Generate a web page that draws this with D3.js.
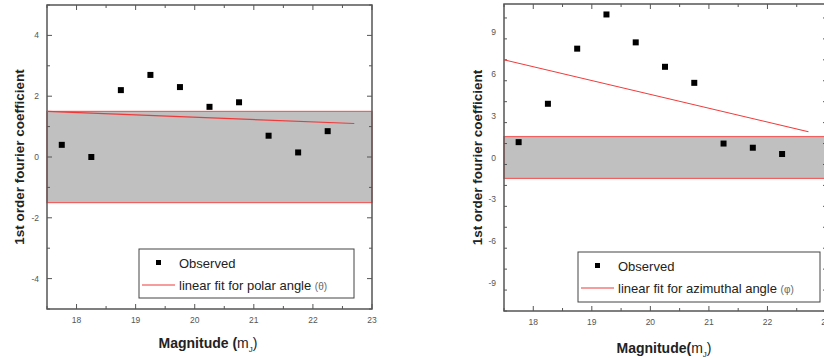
<!DOCTYPE html>
<html>
<head>
<meta charset="utf-8">
<script src="https://cdn.jsdelivr.net/npm/d3@7"></script>
<style>
  body { margin: 0; background: #fff; }
  svg { display: block; }
  text { font-family: "Liberation Sans", Arial, sans-serif; }
</style>
</head>
<body>
<svg id="chart" width="824" height="358"></svg>
<script>
// magnitude bins (shared by both panels)
var magnitudes = [17.75, 18.25, 18.75, 19.25, 19.75, 20.25, 20.75, 21.25, 21.75, 22.25];

// observed 1st order fourier coefficients
var polarObserved = [0.4, 0.0, 2.2, 2.7, 2.3, 1.65, 1.8, 0.7, 0.15, 0.85];
var azimuthObserved = [1.1, 3.85, 7.8, 10.25, 8.25, 6.5, 5.35, 1.0, 0.7, 0.25];

// linear fit endpoints
var fitX = [17.5, 22.7];
var polarFitY = [1.5, 1.1];
var azimuthFitY = [7.0, 1.85];

// shaded band (isotropic range)
var band = [-1.5, 1.5];

var xTicks = [18, 19, 20, 21, 22, 23];
var polarTicks = [-4, -2, 0, 2, 4];
var azimuthTicks = [-9, -6, -3, 0, 3, 6, 9];

var svg = d3.select("#chart");

function drawPanel(opt) {
    var x = d3.scaleLinear().domain([17.5, 23]).range([opt.left, opt.right]);
    var y = d3.scaleLinear().domain(opt.yDomain).range([opt.bottom, opt.top]);

    var g = svg.append("g");

    // band
    g.append("rect")
        .attr("x", x(17.5))
        .attr("y", y(band[1]))
        .attr("width", x(23) - x(17.5))
        .attr("height", y(band[0]) - y(band[1]))
        .style("fill", "#c0c0c0")
        .style("stroke", "#f06060")
        .style("stroke-width", 1.2);

    // minor + major ticks on all four sides, pointing inward
    var xMinor = d3.range(17.5, 23.01, 0.5);
    var yMinor = d3.range(opt.yDomain[0], opt.yDomain[1] + 0.01, opt.minorStep);

    var ticks = g.append("g").style("stroke", "#555").style("stroke-width", 1);
    xMinor.forEach(function (v) {
        var major = xTicks.indexOf(v) >= 0;
        var len = major ? 5 : 3;
        ticks.append("line").attr("x1", x(v)).attr("x2", x(v))
            .attr("y1", opt.bottom).attr("y2", opt.bottom - len);
        ticks.append("line").attr("x1", x(v)).attr("x2", x(v))
            .attr("y1", opt.top).attr("y2", opt.top + len);
    });
    yMinor.forEach(function (v) {
        var major = opt.yTicks.indexOf(Math.round(v * 100) / 100) >= 0;
        var len = major ? 5 : 3;
        ticks.append("line").attr("y1", y(v)).attr("y2", y(v))
            .attr("x1", opt.left).attr("x2", opt.left + len);
        ticks.append("line").attr("y1", y(v)).attr("y2", y(v))
            .attr("x1", opt.right).attr("x2", opt.right - len);
    });

    // frame
    g.append("rect")
        .attr("x", opt.left)
        .attr("y", opt.top)
        .attr("width", opt.right - opt.left)
        .attr("height", opt.bottom - opt.top)
        .style("fill", "none")
        .style("stroke", "#555")
        .style("stroke-width", 1.5);

    // tick labels
    g.selectAll(".xl")
        .data(xTicks)
        .enter()
        .append("text")
        .attr("x", function (d) { return x(d); })
        .attr("y", opt.bottom + 14)
        .attr("text-anchor", "middle")
        .style("font-size", "8.5px")
        .style("fill", "#555")
        .text(function (d) { return d; });

    g.selectAll(".yl")
        .data(opt.yTicks)
        .enter()
        .append("text")
        .attr("x", opt.left - 8)
        .attr("y", function (d) { return y(d) + 3; })
        .attr("text-anchor", "end")
        .style("font-size", "8.5px")
        .style("fill", "#555")
        .text(function (d) { return d; });

    // fit line
    var line = d3.line()
        .x(function (d) { return x(d[0]); })
        .y(function (d) { return y(d[1]); });

    g.append("path")
        .datum(d3.zip(fitX, opt.fitY))
        .attr("d", line)
        .style("fill", "none")
        .style("stroke", "#f03a3a")
        .style("stroke-width", 1.1);

    // observed points
    g.selectAll(".pt")
        .data(d3.zip(magnitudes, opt.observed))
        .enter()
        .append("rect")
        .attr("x", function (d) { return x(d[0]) - 3; })
        .attr("y", function (d) { return y(d[1]) - 3; })
        .attr("width", 6)
        .attr("height", 6)
        .style("fill", "#000");

    // legend
    var lg = g.append("g");
    lg.append("rect")
        .attr("x", opt.legend[0])
        .attr("y", opt.legend[1])
        .attr("width", opt.legend[2])
        .attr("height", opt.legend[3])
        .style("fill", "#fff")
        .style("stroke", "#444")
        .style("stroke-width", 1);

    var lx = opt.legend[0], ly = opt.legend[1];
    lg.append("rect")
        .attr("x", lx + 17)
        .attr("y", ly + 11)
        .attr("width", 5)
        .attr("height", 5)
        .style("fill", "#000");
    lg.append("text")
        .attr("x", lx + 40)
        .attr("y", ly + 19)
        .style("font-size", "13px")
        .style("fill", "#222")
        .text("Observed");

    lg.append("line")
        .attr("x1", lx + 3)
        .attr("x2", lx + 36)
        .attr("y1", ly + 36)
        .attr("y2", ly + 36)
        .style("stroke", "#f03a3a")
        .style("stroke-width", 1.1);
    var t = lg.append("text")
        .attr("x", lx + 40)
        .attr("y", ly + 41)
        .style("font-size", "13px")
        .style("fill", "#222")
        .text(opt.fitLabel + " ");
    t.append("tspan")
        .style("font-size", "10px")
        .style("fill", "#666")
        .text("(" + opt.symbol + ")");

    // axis titles
    svg.append("text")
        .attr("transform", "translate(" + opt.yLabelX + "," + (opt.top + opt.bottom) / 2 + ") rotate(-90)")
        .attr("text-anchor", "middle")
        .style("font-size", "13.5px")
        .style("font-weight", "bold")
        .style("fill", "#222")
        .text("1st order fourier coefficient");

    var xt = svg.append("text")
        .attr("x", opt.xLabelX)
        .attr("y", opt.xLabelY)
        .attr("text-anchor", "middle")
        .style("font-size", "14px")
        .style("font-weight", "bold")
        .style("fill", "#222")
        .text("Magnitude" + opt.gap + "(");
    xt.append("tspan").style("font-weight", "normal").text("m");
    xt.append("tspan").attr("dy", 4).style("font-weight", "normal").style("font-size", "8px").text("J");
    xt.append("tspan").attr("dy", -4).style("font-weight", "normal").text(")");
}

drawPanel({
    left: 47, right: 372, top: 5, bottom: 309,
    yDomain: [-5, 5], yTicks: polarTicks, minorStep: 1,
    observed: polarObserved, fitY: polarFitY,
    fitLabel: "linear fit for polar angle", symbol: "θ",
    legend: [139, 249, 215, 49],
    yLabelX: 24, xLabelX: 208, xLabelY: 348, gap: " "
});

drawPanel({
    left: 504, right: 826, top: 4, bottom: 311,
    yDomain: [-11, 11], yTicks: azimuthTicks, minorStep: 1.5,
    observed: azimuthObserved, fitY: azimuthFitY,
    fitLabel: "linear fit for azimuthal angle", symbol: "φ",
    legend: [578, 252, 242, 50],
    yLabelX: 482, xLabelX: 664, xLabelY: 353, gap: ""
});
</script>
</body>
</html>
